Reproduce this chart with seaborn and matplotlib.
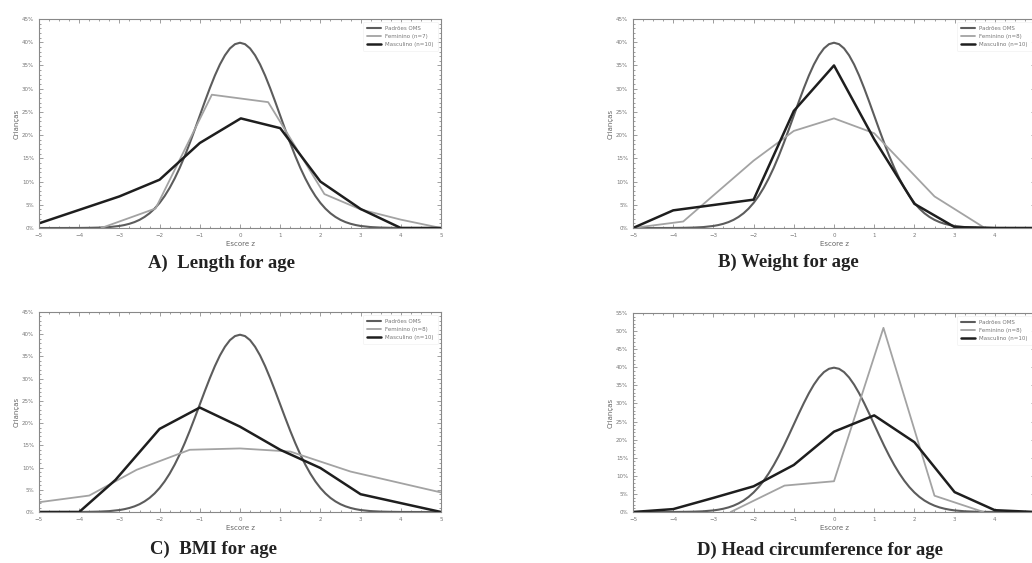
import numpy as np
import pandas as pd
import matplotlib
matplotlib.use("Agg")
import matplotlib.pyplot as plt
from matplotlib.ticker import MultipleLocator, FuncFormatter
import seaborn as sns

# WHO reference curve (% of children)
who_z = [-5, -4.5, -4, -3.75, -3.5, -3.25, -3, -2.875, -2.75, -2.625, -2.5, -2.375, -2.25, -2.125,
         -2, -1.875, -1.75, -1.625, -1.5, -1.375, -1.25, -1.125, -1, -0.875, -0.75, -0.625,
         -0.5, -0.375, -0.25, -0.125, 0, 0.125, 0.25, 0.375, 0.5, 0.625, 0.75, 0.875, 1,
         1.125, 1.25, 1.375, 1.5, 1.625, 1.75, 1.875, 2, 2.125, 2.25, 2.375, 2.5, 2.625,
         2.75, 2.875, 3, 3.25, 3.5, 3.75, 4, 4.5, 5]
who_pct = [0, 0, 0.01, 0.04, 0.09, 0.2, 0.44, 0.64, 0.91, 1.27, 1.75, 2.38, 3.17, 4.17,
           5.4, 6.88, 8.63, 10.66, 12.95, 15.5, 18.26, 21.19, 24.2, 27.21, 30.11, 32.82,
           35.21, 37.18, 38.67, 39.58, 39.89, 39.58, 38.67, 37.18, 35.21, 32.82, 30.11, 27.21, 24.2,
           21.19, 18.26, 15.5, 12.95, 10.66, 8.63, 6.88, 5.4, 4.17, 3.17, 2.38, 1.75, 1.27,
           0.91, 0.64, 0.44, 0.2, 0.09, 0.04, 0.01, 0, 0]

# A) Length for age
a_fem_z = [-3.45, -2.1, -0.7, 0.7, 2.1, 3.0, 4.0, 5.0]
a_fem_pct = [0, 4.2, 28.7, 27.1, 7.3, 4.0, 1.8, 0]
a_masc_z = [-5, -3, -2, -1, 0.02, 1, 2, 3, 4, 5]
a_masc_pct = [1.0, 6.8, 10.4, 18.3, 23.6, 21.5, 10.0, 4.1, 0, 0]

# B) Weight for age
b_fem_z = [-5, -3.75, -2, -1, 0, 1, 2.5, 3.75, 5]
b_fem_pct = [0, 1.4, 14.5, 20.9, 23.6, 20.4, 6.8, 0, 0]
b_masc_z = [-5, -4, -2, -1, 0, 1, 2, 3, 4, 5]
b_masc_pct = [0, 3.8, 6.1, 25.2, 35.0, 19.1, 5.2, 0.2, 0, 0]

# C) BMI for age
c_fem_z = [-5, -3.75, -2.57, -1.25, 0, 1.25, 2.75, 5]
c_fem_pct = [2.2, 3.7, 9.5, 14.0, 14.3, 13.6, 9.1, 4.4]
c_masc_z = [-5, -4, -3.1, -2, -1, 0, 1, 2, 3, 5]
c_masc_pct = [0, 0, 7.2, 18.7, 23.5, 19.2, 14.0, 9.9, 4.0, 0]

# D) Head circumference for age
d_fem_z = [-2.57, -1.23, 0, 1.23, 2.5, 3.72]
d_fem_pct = [0, 7.3, 8.5, 50.9, 4.5, 0]
d_masc_z = [-5, -4, -3, -2, -1, 0, 1, 2, 3, 4, 5]
d_masc_pct = [0, 0.8, 3.9, 7.1, 13.0, 22.2, 26.7, 19.3, 5.5, 0.5, 0]

panels = [
    ("A)  Length for age", a_fem_z, a_fem_pct, a_masc_z, a_masc_pct, "Feminino (n=7)", 45),
    ("B) Weight for age", b_fem_z, b_fem_pct, b_masc_z, b_masc_pct, "Feminino (n=8)", 45),
    ("C)  BMI for age", c_fem_z, c_fem_pct, c_masc_z, c_masc_pct, "Feminino (n=8)", 45),
    ("D) Head circumference for age", d_fem_z, d_fem_pct, d_masc_z, d_masc_pct, "Feminino (n=8)", 55),
]

# axes rectangles and title positions in figure fractions
rects = [
    [39 / 1032, 1 - 228 / 563, 402 / 1032, 209 / 563],
    [633 / 1032, 1 - 228 / 563, 402 / 1032, 209 / 563],
    [39 / 1032, 1 - 512 / 563, 402 / 1032, 200 / 563],
    [633 / 1032, 1 - 512 / 563, 402 / 1032, 199 / 563],
]
title_pos = [(221 / 1032, 1 - 263 / 563), (788 / 1032, 1 - 262 / 563),
             (213 / 1032, 1 - 549 / 563), (820 / 1032, 1 - 550 / 563)]
# right-hand panels run off the page edge, so their last x label is not shown
cut_right = [False, True, False, True]

sns.set_style("ticks")
plt.rcParams["font.family"] = ["DejaVu Sans"]

fig = plt.figure(figsize=(10.32, 5.63), dpi=100)

for (title, fz, fp, mz, mp, fem_label, ymax), rect, tp, cut in zip(panels, rects, title_pos, cut_right):
    ax = fig.add_axes(rect)
    sns.lineplot(x=who_z, y=who_pct, ax=ax, color="#5c5c5c", linewidth=1.5,
                 label="Padrões OMS", sort=False)
    sns.lineplot(x=fz, y=fp, ax=ax, color="#a3a3a3", linewidth=1.3,
                 label=fem_label, sort=False)
    sns.lineplot(x=mz, y=mp, ax=ax, color="#1e1e1e", linewidth=1.8,
                 label="Masculino (n=10)", sort=False)
    ax.set_xlim(-5, 5)
    ax.set_ylim(0, ymax)
    ax.xaxis.set_major_locator(MultipleLocator(1))
    ax.xaxis.set_minor_locator(MultipleLocator(0.25))
    if cut:
        ax.xaxis.set_major_formatter(FuncFormatter(lambda v, p: "" if v > 4.5 else f"{v:.0f}".replace("-", "\u2212")))
    ax.yaxis.set_major_locator(MultipleLocator(5))
    ax.yaxis.set_minor_locator(MultipleLocator(1))
    ax.yaxis.set_major_formatter(FuncFormatter(lambda v, p: f"{v:.0f}%"))
    ax.tick_params(which="both", direction="in", top=True, right=True,
                   labelsize=4, colors="#777777", width=0.5)
    ax.tick_params(which="major", length=3)
    ax.tick_params(which="minor", length=1.5)
    for s in ax.spines.values():
        s.set_color("#888888")
        s.set_linewidth(0.8)
    ax.set_xlabel("Escore z", fontsize=5, color="#666666", labelpad=2)
    ax.set_ylabel("Crianças", fontsize=5, color="#666666", labelpad=2)
    leg = ax.legend(loc="upper right", fontsize=4, frameon=True, handlelength=2.5,
                    borderpad=0.8, labelspacing=0.5)
    leg.get_frame().set_edgecolor("#eeeeee")
    leg.get_frame().set_linewidth(0.5)
    for t in leg.get_texts():
        t.set_color("#777777")
    fig.text(tp[0], tp[1], title, ha="center", va="center", fontsize=13.5,
             fontweight="bold", family=["Liberation Serif", "DejaVu Serif"], color="#222222")

fig.savefig("out.png", dpi=100)
